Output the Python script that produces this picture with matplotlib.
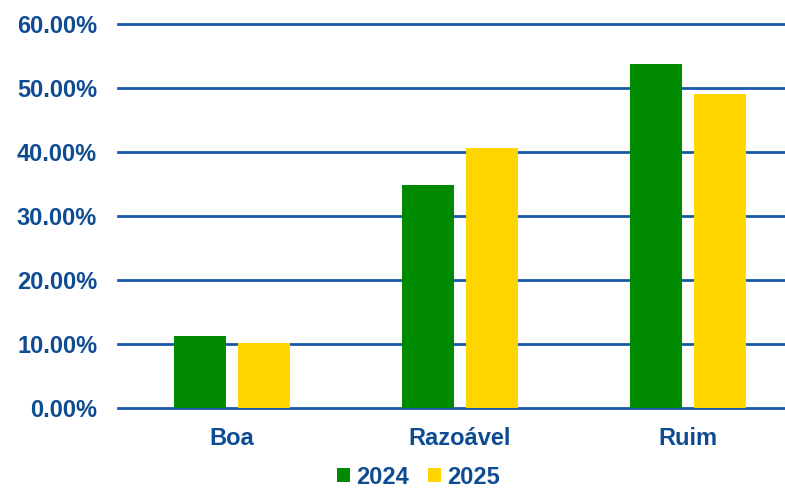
import matplotlib.pyplot as plt
import numpy as np

categories = ["Boa", "Razoável", "Ruim"]
values_2024 = [0.113, 0.348, 0.537]
values_2025 = [0.102, 0.406, 0.491]
series_labels = ["2024", "2025"]
y_ticks = [0.0, 0.1, 0.2, 0.3, 0.4, 0.5, 0.6]

blue = "#0E4C92"
grid_blue = "#1A5AA8"
green = "#008A00"
yellow = "#FFD500"

plt.rcParams["font.family"] = ["Liberation Sans", "DejaVu Sans"]
plt.rcParams["font.weight"] = "bold"

fig = plt.figure(figsize=(7.85, 4.95), dpi=100)
ax = fig.add_axes([118 / 785, 1 - 408 / 495, 1 - 118 / 785, (408 - 24) / 495])

x = np.arange(len(categories))
w = 0.228
off = 0.141
ax.bar(x - off, values_2024, w, color=green, label=series_labels[0], zorder=3)
ax.bar(x + off, values_2025, w, color=yellow, label=series_labels[1], zorder=3)

# grid lines
for t in y_ticks:
    ax.axhline(t, color=grid_blue, lw=2, clip_on=False, zorder=2)

ax.set_ylim(0, 0.6)
ax.set_xlim(-0.5, 2.5 - 17 / 228)
ax.set_yticks(y_ticks)
ax.set_yticklabels([f"{t * 100:.2f}%" for t in y_ticks])
ax.set_xticks(x)
ax.set_xticklabels(categories)
ax.tick_params(axis="y", length=0, pad=15, labelsize=17, labelcolor=blue)
ax.tick_params(axis="x", length=0, pad=14, labelsize=17, labelcolor=blue)
for s in ax.spines.values():
    s.set_visible(False)

leg = fig.legend(loc="lower center", bbox_to_anchor=(0.533, -0.03), ncol=2, frameon=False,
                 fontsize=17, handlelength=0.55, handleheight=0.55, handletextpad=0.25,
                 columnspacing=0.8)
for txt in leg.get_texts():
    txt.set_color(blue)

fig.savefig("out.png", dpi=100)
